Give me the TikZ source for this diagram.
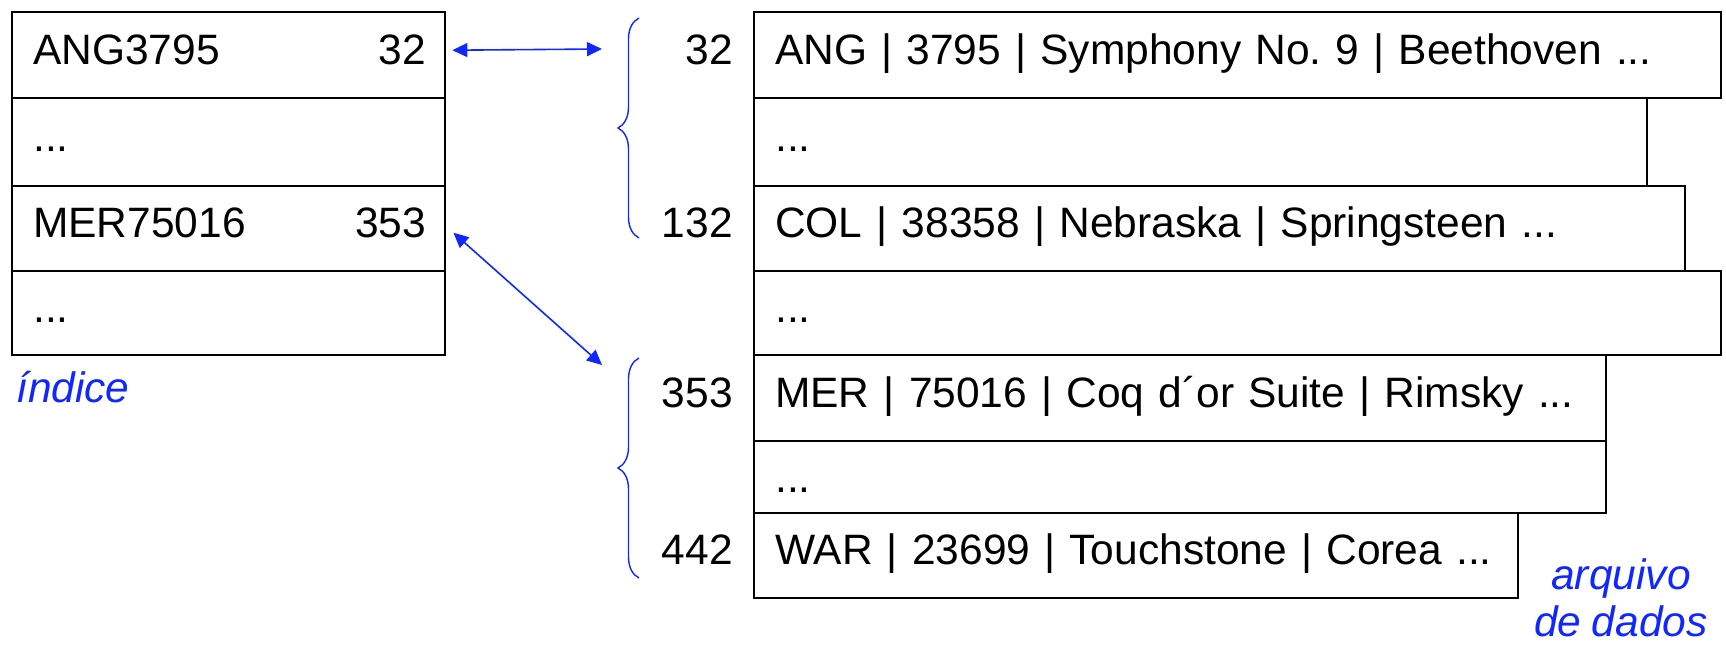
\documentclass[tikz,border=0pt]{standalone}
\usepackage{fontspec}
\setmainfont[WordSpace=0.88]{Liberation Sans}
\frenchspacing
\usetikzlibrary{arrows.meta,decorations.pathreplacing}
\definecolor{linkblue}{RGB}{16,40,255}

\begin{document}
\begin{tikzpicture}[
    x=1pt, y=-1pt,
    every node/.style={font=\fontsize{42.5}{48}\selectfont},
    rec/.style={rectangle, draw, line width=2.4pt, anchor=north west, inner xsep=21pt,
                inner ysep=0pt, text height=30pt, text depth=12pt, align=left},
    num/.style={inner xsep=20pt, inner ysep=0pt, text height=30pt, text depth=12pt},
    link/.style={{Triangle[length=15pt,width=14pt]}-{Triangle[length=15pt,width=14pt]},
                 linkblue, line width=1.6pt},
    curly/.style={decorate, decoration={brace, amplitude=21pt}, linkblue, line width=1.4pt},
    lbl/.style={linkblue, font=\fontsize{42.5}{47}\selectfont\itshape, inner sep=0pt}
]
\useasboundingbox (0,0) rectangle (1726,645);

% index
\node[rec, text width=391pt, minimum height=86pt] (i1) at (11,11) {ANG3795};
\node[rec, text width=391pt, minimum height=88pt] (i2) at (11,97) {...};
\node[rec, text width=391pt, minimum height=85pt] (i3) at (11,185) {MER75016};
\node[rec, text width=391pt, minimum height=84pt] (i4) at (11,270) {...};
\node[num, anchor=east] (k1) at (i1.east) {32};
\node[num, anchor=east] (k3) at (i3.east) {353};
\node[lbl, anchor=base west] (idx) at (16,402) {índice};

% data file
\node[rec, text width=925pt, minimum height=86pt] (d1) at (753,11) {ANG | 3795 | Symphony No. 9 | Beethoven ...};
\node[rec, text width=851pt, minimum height=88pt] (d2) at (753,97) {...};
\node[rec, text width=889pt, minimum height=85pt] (d3) at (753,185) {COL | 38358 | Nebraska | Springsteen ...};
\node[rec, text width=925pt, minimum height=84pt] (d4) at (753,270) {...};
\node[rec, text width=810pt, minimum height=86pt] (d5) at (753,354) {MER | 75016 | Coq d´or Suite | Rimsky ...};
\node[rec, text width=810pt, minimum height=72pt, text depth=0pt] (d6) at (753,440) {...};
\node[rec, text width=722pt, minimum height=85pt] (d7) at (753,512) {WAR | 23699 | Touchstone | Corea ...};
\node[num, anchor=east] (o1) at (d1.west) {32};
\node[num, anchor=east] (o3) at (d3.west) {132};
\node[num, anchor=east] (o5) at (d5.west) {353};
\node[num, anchor=east] (o7) at (d7.west) {442};
\node[lbl, align=center, anchor=north] (arq) at (1621,558) {arquivo\\de dados};

% braces and links
\draw[curly] (639,238) -- (639,18);
\draw[curly] (639,578) -- (639,358);
\coordinate (b1) at (602,49);
\coordinate (b2) at (602,365);
\draw[link] ([xshift=6pt,yshift=5pt]i1.east) -- (b1);
\draw[link] ([xshift=7pt,yshift=-4pt]i3.east) -- (b2);
\end{tikzpicture}
\end{document}
